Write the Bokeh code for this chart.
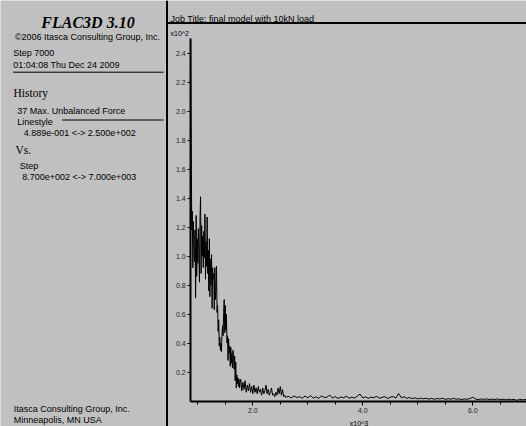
from bokeh.plotting import figure
from bokeh.models import Range1d, LinearAxis, FixedTicker, PrintfTickFormatter
from bokeh.core.properties import value
from bokeh.embed import file_html
from bokeh.resources import INLINE

# ---------------- data (history 37: max. unbalanced force vs step) ----------------
steps_a = list(range(870, 1780, 10))
force_a = [250.0, 181, 118, 131, 92, 124, 108, 96, 118, 71,
           128, 86, 112, 95, 119, 104, 82, 126, 141, 88,
           121, 100, 114, 92, 117, 99, 129, 84, 110, 93,
           127, 88, 104, 76, 112, 72, 98, 80, 101, 64,
           92, 84, 88, 63, 92, 70, 76, 93, 61, 66,
           48, 56, 38, 44, 35, 40, 34, 46, 52, 45,
           61, 70, 47, 66, 49, 60, 40, 45, 28, 43,
           33, 38, 24, 37, 26, 33, 23, 35, 30, 22,
           31, 14, 27, 9, 18, 12, 16, 10, 15, 9, 13]
steps_b = list(range(1780, 2620, 20))
force_b = [15, 7, 13, 8, 14, 6, 11, 7, 12, 6,
           10, 5, 11, 6, 9, 5, 10, 6, 8, 4,
           9, 5, 7, 11, 5, 8, 4, 6, 9, 4,
           5, 3, 6, 4, 9, 5, 10, 4, 8, 3,
           4, 2.5]
steps_c = list(range(2650, 7050, 50))
force_c = [3.2, 2.1, 3.5, 2.4, 3.0, 1.9, 3.4, 2.2, 3.8, 2.0,
           2.9, 1.8, 3.6, 2.3, 2.7, 4.1, 2.0, 3.1, 1.7, 2.8,
           2.2, 3.3, 1.9, 2.6, 2.1, 3.4, 4.8, 2.0, 2.9, 1.8,
           2.7, 2.3, 3.2, 1.9, 2.5, 3.0, 1.7, 2.6, 3.1, 2.0,
           5.2, 2.2, 3.0, 1.8, 2.4, 1.6, 2.2, 1.4, 2.0, 1.5,
           1.9, 1.3, 1.8, 1.2, 1.7, 1.4, 1.9, 1.1, 1.6, 1.3,
           1.8, 1.2, 1.5, 1.0, 1.4, 1.2, 1.7, 2.6, 1.3, 1.0,
           1.4, 1.1, 1.5, 0.9, 1.3, 1.0, 1.4, 0.9, 1.2, 0.8,
           1.3, 0.9, 1.1, 0.489, 1.2, 0.8, 1.0, 0.9]

steps = steps_a + steps_b + steps_c
force = force_a + force_b + force_c

x_major = [2.0, 4.0, 6.0]
x_minor = [1.0, 1.5, 2.0, 2.5, 3.0, 3.5, 4.0, 4.5, 5.0, 5.5, 6.0, 6.5]
y_major = [0.2, 0.4, 0.6, 0.8, 1.0, 1.2, 1.4, 1.6, 1.8, 2.0, 2.2, 2.4]
x_start, x_end = 0.87, 7.0
y_start, y_end = 0.0, 2.5

# ---------------- layout ----------------
W, H = 526, 426
X0, KX = 142.3, 55.0     # canvas px of x=0, px per 1e3 steps
Y0, KY = 400.5, 144.9    # canvas px of y=0, px per 1e2 N

xs = [s / 1000.0 for s in steps]
ys = [f / 100.0 for f in force]

BG = "#c0c0c0"
p = figure(width=W, height=H, output_backend="svg", toolbar_location=None,
           x_axis_type=None, y_axis_type=None,
           x_range=Range1d(-X0 / KX, (W - X0) / KX),
           y_range=Range1d((Y0 - H) / KY, Y0 / KY),
           min_border=0, min_border_left=0, min_border_right=0,
           min_border_top=0, min_border_bottom=0)
p.background_fill_color = BG
p.border_fill_color = BG
p.outline_line_color = None
p.extra_x_ranges = {"px": Range1d(0, W)}
p.extra_y_ranges = {"px": Range1d(H, 0)}

SANS = "Liberation Sans"
SERIF = "Liberation Serif"


def txt(x, y, s, size="9px", font=SANS, style="normal", align="left", color="#000000"):
    p.text(x=[x], y=[y], text=[s], text_font=value(font), text_font_size=value(size),
           text_font_style=style, text_align=align, text_baseline="alphabetic",
           text_color=color, x_range_name="px", y_range_name="px")


def seg(x0, y0, x1, y1, w=1):
    p.segment(x0=[x0], y0=[y0], x1=[x1], y1=[y1], line_color="#000000", line_width=w,
              x_range_name="px", y_range_name="px")


# separators
seg(166.5, 0, 166.5, H, 2)
seg(166, 22.5, W, 22.5, 2)
seg(12.7, 71.7, 163, 71.7, 1)
seg(61.7, 119.5, 163, 119.5, 1)

# left info panel
txt(87.5, 21.5, "FLAC3D 3.10", size="16px", font=SERIF, style="bold italic", align="center")
txt(87.0, 36.5, "\u00a92006 Itasca Consulting Group, Inc.", align="center")
txt(12.7, 52.7, "Step 7000")
txt(12.7, 64.7, "01:04:08 Thu Dec 24 2009")
txt(13.0, 92.3, "History", size="11.5px", font=SERIF)
txt(16.7, 110.0, "37 Max. Unbalanced Force")
txt(16.7, 121.5, "Linestyle")
txt(23.3, 132.0, "4.889e-001 <-> 2.500e+002")
txt(15.0, 149.3, "Vs.", size="11.5px", font=SERIF)
txt(19.3, 165.7, "Step")
txt(21.7, 176.7, "8.700e+002 <-> 7.000e+003")
txt(13.3, 408.0, "Itasca Consulting Group, Inc.")
txt(13.3, 419.5, "Minneapolis, MN  USA")

# right panel titles
txt(170.0, 18.0, "Job Title: final model with 10kN load")
txt(170.0, 33.0, "x10^2", size="7px")
txt(358.5, 422.5, "x10^3", size="7px", align="center")

# data
p.line(xs, ys, line_color="#000000", line_width=1)

# axes
yaxis = LinearAxis(fixed_location=x_start, bounds=(y_start, y_end),
                   ticker=FixedTicker(ticks=y_major),
                   formatter=PrintfTickFormatter(format="%.1f"))
xaxis = LinearAxis(fixed_location=y_start, bounds=(x_start, x_end),
                   ticker=FixedTicker(ticks=x_major, minor_ticks=x_minor),
                   formatter=PrintfTickFormatter(format="%.1f"))
for ax in (xaxis, yaxis):
    ax.axis_line_color = "#000000"
    ax.axis_line_width = 2
    ax.major_tick_line_color = "#000000"
    ax.minor_tick_line_color = "#000000"
    ax.major_tick_in = 0
    ax.minor_tick_in = 0
    ax.major_label_text_font = SANS
    ax.major_label_text_font_size = "7px"
    ax.major_label_text_color = "#222222"
yaxis.major_tick_out = 3
yaxis.minor_tick_out = 0
yaxis.major_label_standoff = 2
xaxis.major_tick_out = 4
xaxis.minor_tick_out = 3
xaxis.major_label_standoff = 3
p.add_layout(yaxis, "left")
p.add_layout(xaxis, "below")

open("out.html", "w").write(file_html(p, INLINE))
